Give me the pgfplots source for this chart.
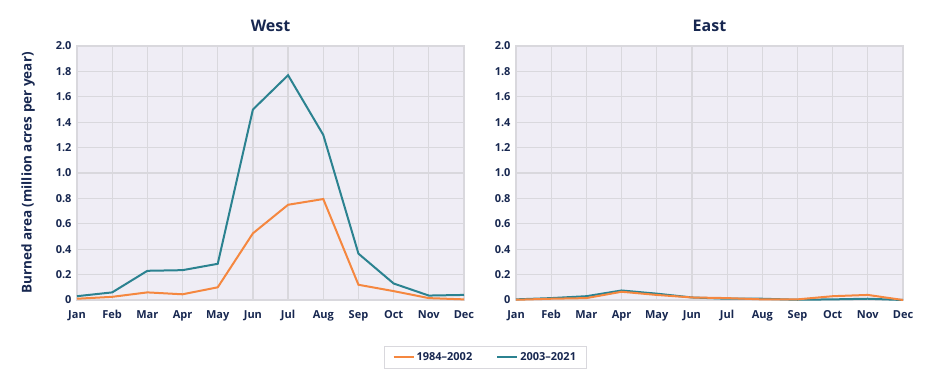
\documentclass[border=0pt]{standalone}
\usepackage{fontspec}
\setmainfont{Open Sans}
\usepackage{pgfplots}
\pgfplotsset{compat=1.18}
\definecolor{orangeL}{HTML}{F5873F}
\definecolor{tealL}{HTML}{2B8290}
\definecolor{bgc}{HTML}{EFEDF5}
\definecolor{gridc}{HTML}{D9D8DD}
\definecolor{txt}{HTML}{172750}
\pgfplotsset{mystyle/.style={
  scale only axis, width=387pt, height=254pt,
  xmin=0, xmax=11, ymin=0, ymax=2,
  xtick={0,1,2,3,4,5,6,7,8,9,10,11},
  xticklabels={Jan,Feb,Mar,Apr,May,Jun,Jul,Aug,Sep,Oct,Nov,Dec},
  ytick={0,0.2,0.4,0.6,0.8,1.0,1.2,1.4,1.6,1.8,2.0},
  yticklabels={0,0.2,0.4,0.6,0.8,1.0,1.2,1.4,1.6,1.8,2.0},
  grid=major, major grid style={gridc, line width=1.2pt},
  axis line style={gridc, line width=1.2pt},
  tick style={draw=none},
  axis background/.style={fill=bgc},
  tick label style={font=\bfseries\fontsize{11}{13}\selectfont, text=txt},
  xticklabel style={yshift=-7pt},
  yticklabel style={xshift=-2pt},
  title style={font=\bfseries\fontsize{16}{19}\selectfont, text=txt, yshift=5pt},
  label style={font=\bfseries\fontsize{13.5}{16}\selectfont, text=txt},
  ylabel style={yshift=14pt},
  clip=false,
  /pgf/number format/assume math mode=true,
}}
\begin{document}
\begin{tikzpicture}
\useasboundingbox (0,0) rectangle (928pt,-389pt);
\begin{axis}[mystyle, at={(77pt,-300pt)}, anchor=south west, title={West},
  ylabel={Burned area (million acres per year)},
  legend style={at={(1.055,-0.226)}, anchor=center, draw=gridc, line width=1pt,
    font=\bfseries\fontsize{11}{13}\selectfont, text=txt, legend columns=2,
    /tikz/every even column/.append style={column sep=22pt}, inner xsep=8pt, inner ysep=4pt},
  legend image code/.code={\draw[#1, line width=2pt] (0pt,0pt) -- (20pt,0pt);}]
\addplot[orangeL, line width=2pt] coordinates {(0,0.01) (1,0.025) (2,0.06) (3,0.045) (4,0.10) (5,0.525) (6,0.75) (7,0.795) (8,0.12) (9,0.07) (10,0.015) (11,0.005)};
\addlegendentry{1984--2002}
\addplot[tealL, line width=2pt] coordinates {(0,0.03) (1,0.06) (2,0.23) (3,0.235) (4,0.285) (5,1.50) (6,1.77) (7,1.30) (8,0.365) (9,0.13) (10,0.035) (11,0.04)};
\addlegendentry{2003--2021}
\end{axis}
\begin{axis}[mystyle, at={(516pt,-300pt)}, anchor=south west, title={East}]
\addplot[tealL, line width=2pt] coordinates {(0,0.005) (1,0.015) (2,0.03) (3,0.075) (4,0.05) (5,0.02) (6,0.01) (7,0.01) (8,0.002) (9,0.005) (10,0.01) (11,0)};
\addplot[orangeL, line width=2pt] coordinates {(0,0.002) (1,0.01) (2,0.015) (3,0.065) (4,0.04) (5,0.02) (6,0.015) (7,0.005) (8,0.005) (9,0.03) (10,0.04) (11,0)};
\end{axis}
\end{tikzpicture}
\end{document}
